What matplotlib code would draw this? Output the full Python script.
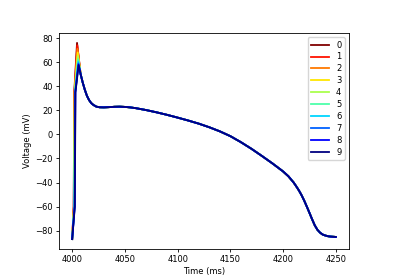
import numpy as np
import matplotlib
matplotlib.use("Agg")
import matplotlib.pyplot as plt

# shared repolarisation part of the action potential
tail_ms = [4008, 4010, 4012, 4014, 4016, 4018, 4020, 4023, 4026, 4030, 4035,
           4040, 4045, 4050, 4055, 4060, 4070, 4080, 4090, 4100, 4110, 4120,
           4130, 4140, 4150, 4160, 4170, 4180, 4190, 4200, 4205, 4210, 4212.5,
           4215, 4217.5, 4220, 4222.5, 4225, 4227.5, 4230, 4232.5, 4235,
           4237.5, 4240, 4242.5, 4245, 4250]
tail_mv = [50.0, 43.0, 37.0, 32.0, 28.5, 26.0, 24.5, 23.0, 22.5, 22.4, 22.6,
           22.9, 23.0, 22.8, 22.4, 21.8, 20.2, 18.3, 16.2, 13.9, 11.5, 8.9,
           5.9, 2.5, -1.5, -6.5, -12.0, -18.0, -24.2, -30.8, -34.8, -40.0, -43.2,
           -46.6, -50.5, -55.0, -60.0, -65.2, -70.5, -75.5, -79.2, -81.6,
           -83.2, -84.0, -84.6, -84.9, -85.2]

# per-trace upstroke: start, mid-rise time and peak
rest_mv = -87.0
start_ms = 4000.0
rise_ms = [4001.4, 4001.5, 4001.6, 4001.8, 4001.9, 4002.0, 4002.2, 4002.3, 4002.4, 4002.5]
peak_ms = [4004.6, 4004.8, 4005.0, 4005.2, 4005.4, 4005.6, 4005.8, 4005.9, 4006.0, 4006.1]
peak_mv = [76.0, 74.0, 71.0, 68.0, 65.0, 62.5, 60.5, 59.0, 58.0, 57.5]
labels = [str(i) for i in range(10)]

fig = plt.figure(figsize=(4, 2.8), dpi=100)
ax = fig.add_axes([0.1475, 0.111, 0.725, 0.771])

cmap = plt.get_cmap("jet_r")
for i in range(10):
    t = [start_ms, rise_ms[i], rise_ms[i] + 0.6, peak_ms[i]] + tail_ms
    v = [rest_mv, -60.0, 35.0, peak_mv[i]] + tail_mv
    ax.plot(t, v, color=cmap(i / 9), lw=1.3, label=labels[i])

ax.set_xlabel("Time (ms)", fontsize=6, labelpad=2)
ax.set_ylabel("Voltage (mV)", fontsize=6, labelpad=2)
ax.tick_params(labelsize=6, length=2.5, width=0.6, pad=2)
for s in ax.spines.values():
    s.set_linewidth(0.6)
ax.legend(loc="upper right", fontsize=6, handlelength=2.2, labelspacing=0.35,
          borderpad=0.4)

fig.savefig("out.png", dpi=100)
